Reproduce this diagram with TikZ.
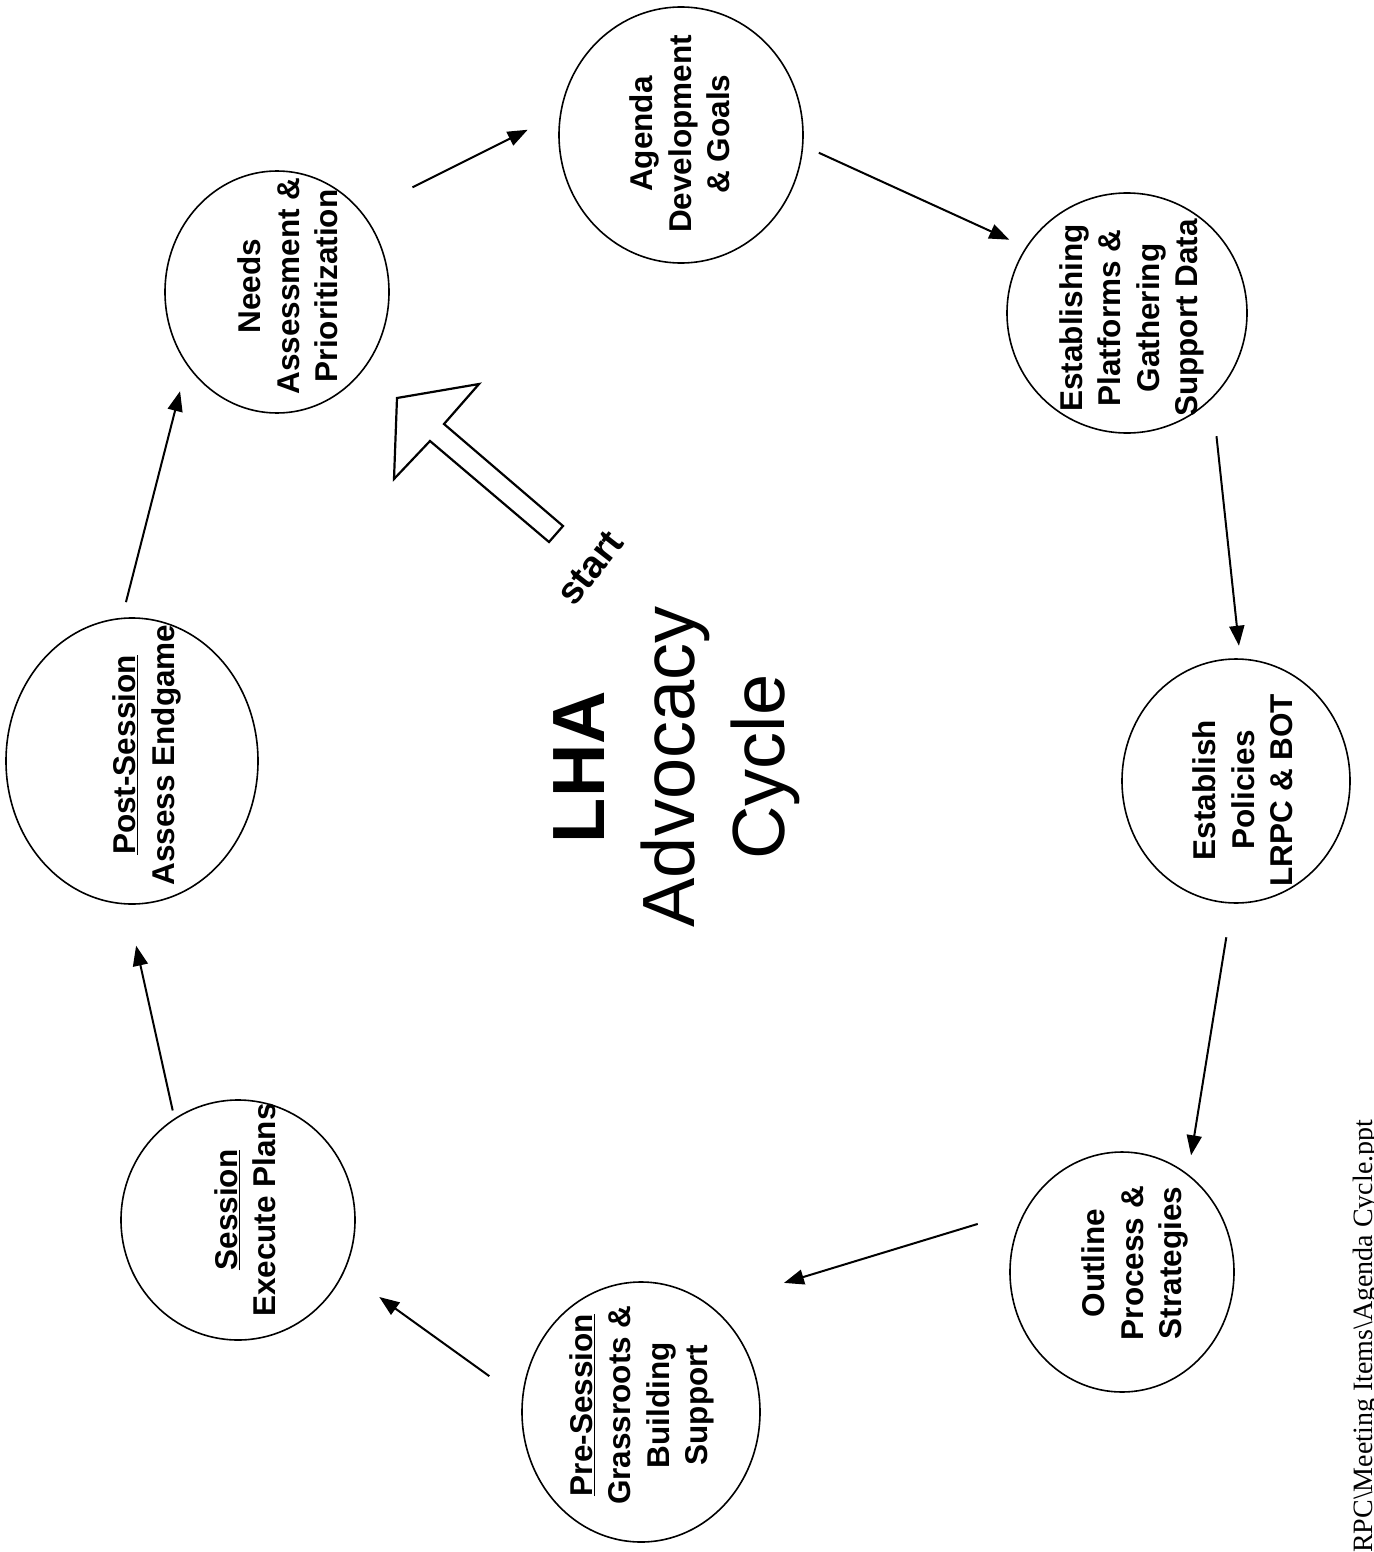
\documentclass[tikz,border=0pt]{standalone}
\usepackage{fontspec}
\setmainfont{Liberation Sans}
\newfontfamily\pathfont{Liberation Serif}
\usetikzlibrary{shapes.geometric, arrows.meta}

\begin{document}
\begin{tikzpicture}[x=1pt, y=-1pt,
    stage/.style={ellipse, draw, line width=1.6pt},
    stagetext/.style={rotate=90, align=center, inner sep=0pt, font=\fontsize{31.5}{38.5}\selectfont\bfseries},
    flow/.style={-{Triangle[length=20pt, width=15pt]}, line width=2pt},
    title/.style={rotate=90, align=center, font=\fontsize{74}{90}\selectfont},
    startarrow/.style={line width=2.2pt, fill=white, line join=miter},
    starttext/.style={rotate=52, font=\fontsize{38}{44}\selectfont\bfseries},
    pathtext/.style={rotate=90, anchor=base west, inner sep=0pt, font=\pathfont\fontsize{28}{34}\selectfont}]

    % Page
    \fill[white] (0,0) rectangle (1373,1552);
    \useasboundingbox (0,0) rectangle (1373,1552);

    % Stages of the cycle
    \node[stage, minimum width=224pt, minimum height=242pt] (needs) at (277,292) {};
    \node[stage, minimum width=244pt, minimum height=256pt] (agenda) at (681,135) {};
    \node[stage, minimum width=240pt, minimum height=240pt] (platforms) at (1127,313) {};
    \node[stage, minimum width=228pt, minimum height=244pt] (policies) at (1236,781) {};
    \node[stage, minimum width=224pt, minimum height=240pt] (outline) at (1122,1272) {};
    \node[stage, minimum width=238pt, minimum height=260pt] (presession) at (641,1412) {};
    \node[stage, minimum width=234pt, minimum height=240pt] (session) at (238,1220) {};
    \node[stage, minimum width=252pt, minimum height=286pt] (postsession) at (132,761) {};

    % Stage texts
    \node[stagetext] (needs-txt) at (288,286) {Needs\\Assessment \&\\Prioritization};
    \node[stagetext] (agenda-txt) at (680,134) {Agenda\\Development\\\& Goals};
    \node[stagetext] (platforms-txt) at (1132,318) {Establishing\\Platforms \&\\Gathering\\Support Data};
    \node[stagetext] (policies-txt) at (1243,790) {Establish\\Policies\\LRPC \& BOT};
    \node[stagetext] (outline-txt) at (1135,1263) {Outline\\Process \&\\Strategies};
    \node[stagetext] (presession-txt) at (642,1405) {\underline{Pre-Session}\\Grassroots \&\\Building\\Support};
    \node[stagetext] (session-txt) at (245,1210) {\underline{Session}\\Execute Plans};
    \node[stagetext] (postsession-txt) at (147,755) {\underline{Post-Session}\\Assess Endgame};

    % Cycle arrows
    \draw[flow, shorten <=56pt, shorten >=36pt] (needs.43) -- (agenda.170);
    \draw[flow, shorten <=17pt, shorten >=18pt] (agenda.-5.7) -- (platforms.147.3);
    \draw[flow, shorten <=38pt, shorten >=12.6pt] (platforms.-45.9) -- (policies.88.3);
    \draw[flow, shorten <=34pt, shorten >=19pt] (policies.-92.2) -- (outline.56.4);
    \draw[flow, shorten <=50pt, shorten >=77pt] (outline.147.5) -- (presession.57.7);
    \draw[flow, shorten <=40pt, shorten >=43pt] (presession.174.8) -- (session.-26.8);
    \draw[flow, shorten <=8pt, shorten >=42pt] (session.122.7) -- (postsession.-92.4);
    \draw[flow, shorten <=16pt, shorten >=27pt] (postsession.94.4) -- (needs.-141.5);

    % Start
    \draw[startarrow] (397,398) -- (479,384) -- (444,424) -- (563,526) -- (549,542) -- (430,441) -- (394,479) -- cycle;
    \node[starttext] (start) at (590,568) {start};

    % Title
    \node[title] (title) at (677,767) {\textbf{LHA}\\Advocacy\\Cycle};

    % File path
    \node[pathtext] (file) at (1372,1553) {RPC\textbackslash Meeting Items\textbackslash Agenda Cycle.ppt};

\end{tikzpicture}
\end{document}
